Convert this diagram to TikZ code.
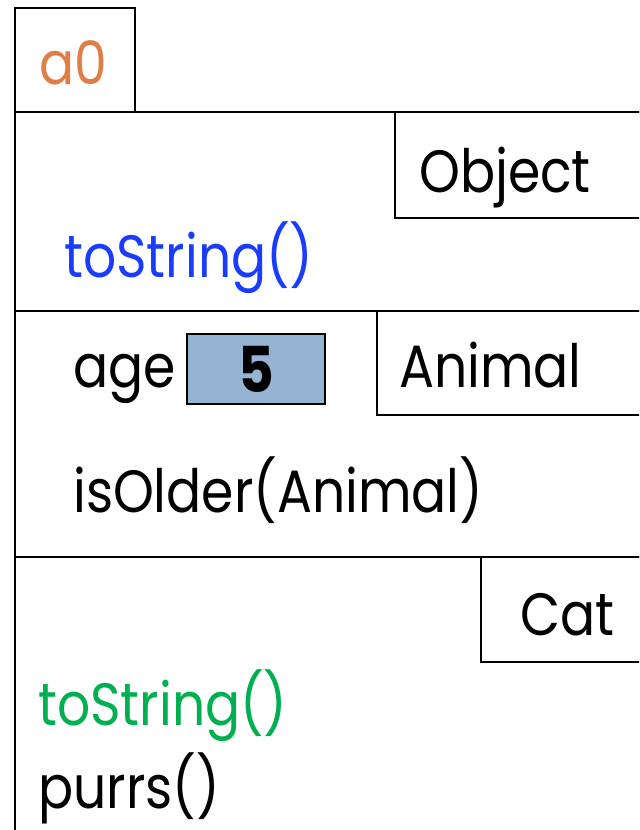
\documentclass[tikz,border=0pt]{standalone}
\usepackage{fontspec}
\setmainfont{Poppins}[FakeStretch=0.87]
\definecolor{arancio}{HTML}{E07F45}
\definecolor{blu}{HTML}{1A3CFF}
\definecolor{verde}{HTML}{00B050}
\definecolor{azzurro}{HTML}{95B3D2}
\begin{document}
\begin{tikzpicture}[x=0.02cm,y=-0.02cm,line width=1.4pt,
    testo/.style={anchor=base west,inner sep=0pt,font=\fontsize{34}{40}\selectfont},
    valore/.style={draw,line width=1pt,fill=azzurro,inner sep=0pt,minimum width=2.76cm,minimum height=1.4cm,font=\fontsize{36}{40}\selectfont\bfseries}]
    \useasboundingbox (0,0) rectangle (639,830);
    \clip (0,0) rectangle (639,830);
        %riferimento
        \draw(15,8) rectangle++(120,104);
        \node[testo,text=arancio] (a0) at (38,85) {a0};
        %Object
        \draw(15,830) -- (15,112) -- (660,112);
        \draw(395,112) rectangle (660,218);
        \node[testo] (object) at (418,193) {Object};
        \node[testo,text=blu] (tostringobj) at (63,278) {toString()};
        %Animal
        \draw(15,311) -- (660,311);
        \draw(377,311) rectangle (660,415);
        \node[testo] (animal) at (398,388) {Animal};
        \node[testo] (age) at (72,388) {age};
        \node[valore] (eta) at (256,369) {5};
        \node[testo] (isolder) at (72,512) {isOlder(Animal)};
        %Cat
        \draw(15,557) -- (660,557);
        \draw(481,557) rectangle (660,662);
        \node[testo] (cat) at (519,635) {Cat};
        \node[testo,text=verde] (tostringcat) at (37,725) {toString()};
        \node[testo] (purrs) at (37,808) {purrs()};
    \end{tikzpicture}
\end{document}
